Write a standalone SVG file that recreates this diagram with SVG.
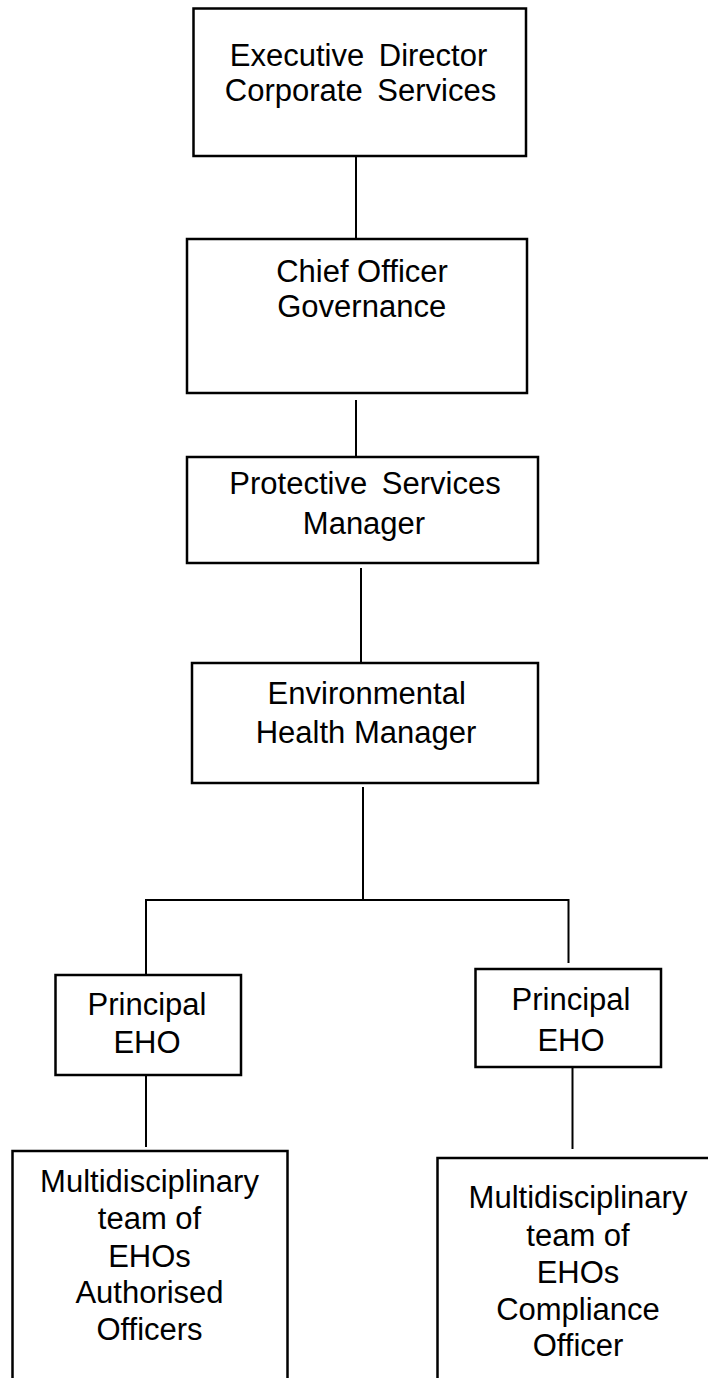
<svg xmlns="http://www.w3.org/2000/svg" width="708" height="1378" viewBox="0 0 708 1378">
<style>
.box{fill:#fff;stroke:#000;stroke-width:2.5}
.ln{stroke:#000;stroke-width:2;fill:none}
text{font-family:"Liberation Sans",Arial,sans-serif;font-size:31px;fill:#000;text-anchor:middle}
.ws{word-spacing:6px}
</style>
<rect width="708" height="1378" fill="#fff"/>
<g id="connectors">
<line class="ln" x1="356" y1="157" x2="356" y2="239"/>
<line class="ln" x1="356" y1="400" x2="356" y2="457"/>
<line class="ln" x1="361" y1="568" x2="361" y2="663"/>
<line class="ln" x1="363" y1="787" x2="363" y2="900"/>
<polyline class="ln" points="146,975 146,900 568.5,900 568.5,963"/>
<line class="ln" x1="146" y1="1075" x2="146" y2="1147"/>
<line class="ln" x1="572.5" y1="1067" x2="572.5" y2="1149"/>
</g>
<g id="exec">
<rect class="box" x="193.5" y="8.5" width="332.5" height="147.5"/>
<text class="ws" x="358.5" y="66">Executive Director</text>
<text class="ws" x="360.5" y="101">Corporate Services</text>
</g>
<g id="chief">
<rect class="box" x="187" y="239" width="340" height="154"/>
<text x="362" y="282">Chief Officer</text>
<text x="361.7" y="316.7">Governance</text>
</g>
<g id="protective">
<rect class="box" x="187" y="457" width="351" height="106"/>
<text class="ws" x="365" y="494">Protective Services</text>
<text x="364" y="534">Manager</text>
</g>
<g id="env">
<rect class="box" x="192" y="663" width="346" height="120"/>
<text x="366.7" y="704">Environmental</text>
<text x="366" y="742.7">Health Manager</text>
</g>
<g id="principal-left">
<rect class="box" x="55.5" y="975" width="185.5" height="100"/>
<text x="147" y="1015">Principal</text>
<text x="147" y="1053.3">EHO</text>
</g>
<g id="principal-right">
<rect class="box" x="475.5" y="969" width="185.5" height="98"/>
<text x="571" y="1010">Principal</text>
<text x="571" y="1050.7">EHO</text>
</g>
<g id="team-left">
<rect class="box" x="12.5" y="1151" width="275" height="240"/>
<text x="149.5" y="1192.3">Multidisciplinary</text>
<text x="149.5" y="1229.3">team of</text>
<text x="149.5" y="1266.7">EHOs</text>
<text x="149.5" y="1303.3">Authorised</text>
<text x="149.5" y="1340">Officers</text>
</g>
<g id="team-right">
<rect class="box" x="437.5" y="1158" width="290" height="240"/>
<text x="578" y="1208.3">Multidisciplinary</text>
<text x="578" y="1245.7">team of</text>
<text x="578" y="1283.3">EHOs</text>
<text x="578" y="1320">Compliance</text>
<text x="578" y="1356">Officer</text>
</g>
</svg>
